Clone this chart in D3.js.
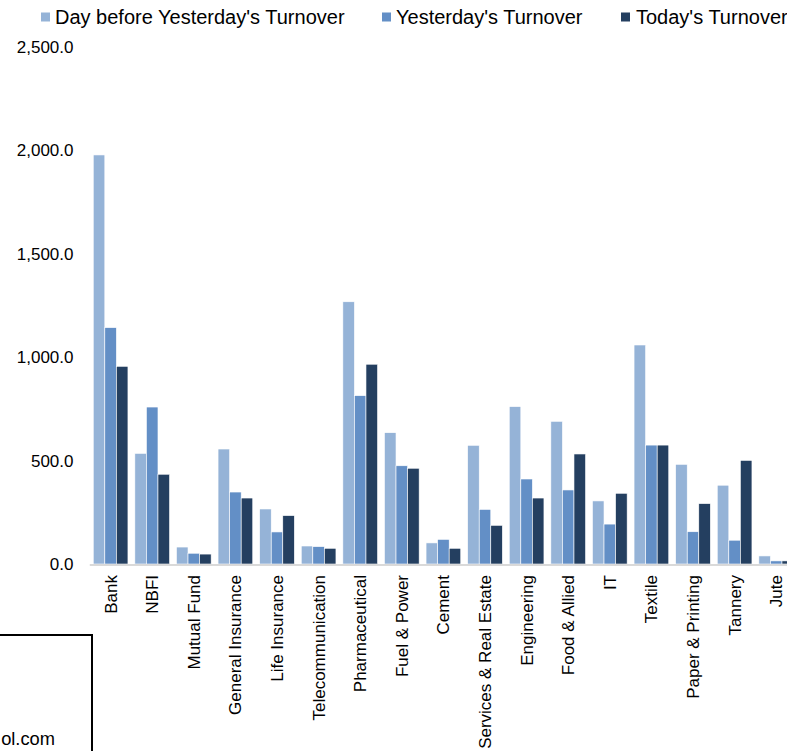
<!DOCTYPE html>
<html>
<head>
<meta charset="utf-8">
<script src="https://cdn.jsdelivr.net/npm/d3@7"></script>
<style>
  html, body { margin: 0; padding: 0; background: #fff; overflow: hidden; }
  svg { display: block; font-family: "Liberation Sans", Arial, sans-serif; }
</style>
</head>
<body>
<svg id="chart" width="787" height="751"></svg>
<script>
const categories = ["Bank", "NBFI", "Mutual Fund", "General Insurance", "Life Insurance",
  "Telecommunication", "Pharmaceutical", "Fuel & Power", "Cement", "Services & Real Estate",
  "Engineering", "Food & Allied", "IT", "Textile", "Paper & Printing", "Tannery", "Jute"];
const seriesNames = ["Day before Yesterday's Turnover", "Yesterday's Turnover", "Today's Turnover"];
const dayBeforeYesterday = [1978, 535, 82, 556, 266, 87, 1268, 635, 102, 574, 761, 690, 305, 1059, 482, 381, 39];
const yesterday = [1143, 759, 52, 348, 155, 84, 814, 475, 119, 264, 411, 358, 193, 575, 156, 115, 15];
const today = [956, 434, 48, 319, 234, 76, 966, 463, 76, 187, 319, 532, 342, 575, 292, 501, 15];
const yTicks = [0, 500, 1000, 1500, 2000, 2500];
const colors = ["#95B3D7", "#638FC6", "#243F60"];

const seriesValues = [dayBeforeYesterday, yesterday, today];
const svg = d3.select("#chart");

const y = d3.scaleLinear().domain([0, 2500]).range([564, 47]);
const x = d3.scaleBand().domain(categories).range([89.8, 89.8 + 17 * 41.6])
  .paddingInner(0.166).paddingOuter(0.083);
const xs = d3.scaleBand().domain(d3.range(seriesNames.length)).range([0, x.bandwidth()]);

// y tick labels
svg.append("g").selectAll("text").data(yTicks).join("text")
  .attr("x", 73.5).attr("y", d => y(d) + 1.5)
  .attr("text-anchor", "end").attr("dominant-baseline", "middle")
  .attr("font-size", 17).attr("fill", "#000")
  .text(d => d3.format(",.1f")(d));

// bars
const groups = svg.append("g").selectAll("g").data(categories).join("g")
  .attr("transform", d => `translate(${x(d)},0)`);
groups.selectAll("rect").data((d, i) => seriesValues.map((s, k) => ({k, v: s[i]}))).join("rect")
  .attr("x", d => xs(d.k)).attr("width", xs.bandwidth())
  .attr("y", d => y(d.v)).attr("height", d => y(0) - y(d.v))
  .attr("fill", d => colors[d.k]).attr("stroke", "#fff").attr("stroke-width", 0.6);

// x axis line
svg.append("line").attr("x1", 89.8).attr("x2", 89.8 + 17 * 41.6)
  .attr("y1", y(0) + 1).attr("y2", y(0) + 1)
  .attr("stroke", "#D9D9D9").attr("stroke-width", 2);

// x labels
svg.append("g").selectAll("text").data(categories).join("text")
  .attr("transform", d => `translate(${x(d) + x.bandwidth() / 2 + 6},575) rotate(-90)`)
  .attr("text-anchor", "end").attr("font-size", 17).attr("fill", "#000")
  .text(d => d);

// legend
const legendPos = [{sx: 41, tx: 55}, {sx: 382, tx: 396}, {sx: 621, tx: 636}];
const lg = svg.append("g").selectAll("g").data(seriesNames).join("g");
lg.append("rect").attr("x", (d, i) => legendPos[i].sx).attr("y", 12.5)
  .attr("width", 9).attr("height", 9).attr("fill", (d, i) => colors[i]);
lg.append("text").attr("x", (d, i) => legendPos[i].tx).attr("y", 23.5)
  .attr("font-size", 20).attr("fill", "#000").text(d => d);

// bottom-left box
svg.append("rect").attr("x", -10).attr("y", 635).attr("width", 102).attr("height", 200)
  .attr("fill", "none").attr("stroke", "#000").attr("stroke-width", 2);
svg.append("text").attr("x", 55).attr("y", 745).attr("text-anchor", "end")
  .attr("font-size", 18.3).attr("fill", "#000").text("ol.com");
</script>
</body>
</html>
